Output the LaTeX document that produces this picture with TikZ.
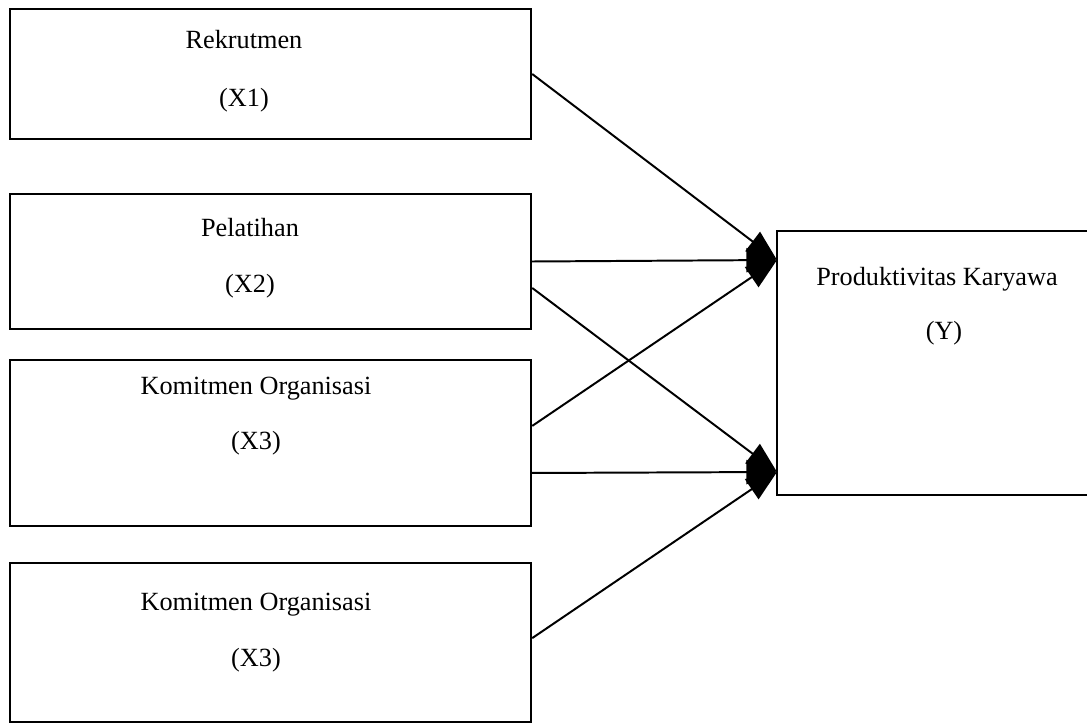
\documentclass[tikz,border=0pt]{standalone}
\usepackage{fontspec}
\setmainfont{Liberation Serif}
\usetikzlibrary{arrows.meta}

\begin{document}
\begin{tikzpicture}[x=0.457pt, y=-0.457pt,
  varbox/.style={draw, line width=1.2pt, inner sep=0pt, minimum width=238pt},
  link/.style={line width=0.9pt, -{Triangle[length=14pt, width=11pt]}},
  font=\fontsize{12}{14}\selectfont]
  \clip (0,0) rectangle (1087,726);
  % boxes for the variables
  \node[varbox, minimum height=59.4pt] (x1) at (270.5,74) {};
  \node[varbox, minimum height=61.7pt] (x2) at (270.5,261.5) {};
  \node[varbox, minimum height=75.9pt] (x3) at (270.5,443) {};
  \node[varbox, minimum height=72.7pt] (x4) at (270.5,642.5) {};
  \node[varbox, minimum width=145.3pt, minimum height=120.6pt] (y) at (936,363) {};
  % texts
  \node (t1) at (244,40) {Rekrutmen};
  \node (v1) at (244,100) {(X1)};
  \node (t2) at (250,228) {Pelatihan};
  \node (v2) at (250,286) {(X2)};
  \node (t3) at (256,389) {Komitmen Organisasi};
  \node (v3) at (256,443) {(X3)};
  \node (t4) at (256,605) {Komitmen Organisasi};
  \node (v4) at (256,660) {(X3)};
  \node (ty) at (937,279) {Produktivitas Karyawa};
  \node (vy) at (944,333) {(Y)};
  % arrows into Y
  \coordinate (in1) at (777,260);
  \coordinate (in2) at (777,472);
  \draw[link] (x1.east) -- (in1);
  \draw[link] (x2.east) -- (in1);
  \draw[link] ([yshift=7.8pt]x3.east) -- (in1);
  \draw[link] ([yshift=-12.1pt]x2.east) -- (in2);
  \draw[link] ([yshift=-13.7pt]x3.east) -- (in2);
  \draw[link] ([yshift=2pt]x4.east) -- (in2);
\end{tikzpicture}
\end{document}
